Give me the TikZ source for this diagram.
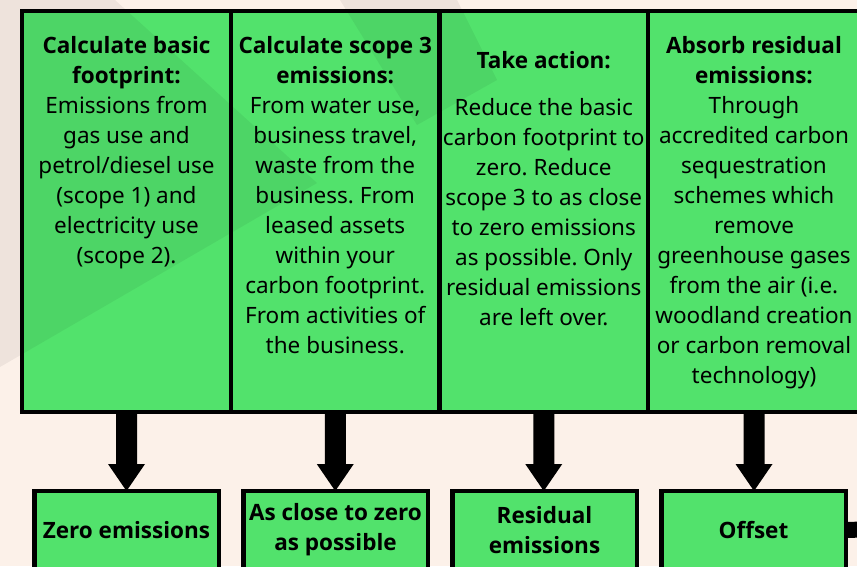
\documentclass[tikz,border=0pt]{standalone}
\usepackage{fontspec}
\setmainfont{Noto Sans}
\newfontfamily\headfont{Open Sans}
\usetikzlibrary{calc}

\definecolor{cream}{RGB}{252,241,233}
\definecolor{leaf}{RGB}{82,226,108}

\newcommand\bodyfont{\fontsize{22.5}{30}\selectfont\frenchspacing}
\newcommand\hd[1]{{\headfont\bfseries #1}}

\tikzset{
  panel/.style={draw=black, line width=4.5pt, fill=leaf, inner sep=0pt,
    outer sep=0pt, minimum height=401pt},
  result/.style={draw=black, line width=4.5pt, fill=leaf, inner sep=0pt,
    outer sep=0pt, minimum width=184.5pt, minimum height=78pt,
    align=center, font=\bodyfont\headfont\bfseries},
  blurb/.style={anchor=north, inner sep=0pt, align=center, font=\bodyfont},
  tint/.style={fill=black, fill opacity=0.055},
}

% thick downward arrow from the bottom of one node to the top of another
\newcommand\fatdrop[2]{%
  \fill let \p1=(#1.south), \p2=(#2.north) in
    (\x1-10.5pt,\y1) -- (\x1-10.5pt,\y2+27pt) -- (\x1-18.5pt,\y2+27pt) --
    (\x1,\y2) -- (\x1+18.5pt,\y2+27pt) -- (\x1+10.5pt,\y2+27pt) --
    (\x1+10.5pt,\y1) -- cycle;}

\begin{document}
\begin{tikzpicture}[x=1pt, y=-1pt]
  \useasboundingbox (0,0) rectangle (857,566);
  \clip (0,0) rectangle (857,566);
  \fill[cream] (0,0) rectangle (857,566);

  % the four step panels
  \node[panel, minimum width=209pt] (t1) at (126.5,211.5) {};
  \node[panel, minimum width=208.5pt] (t2) at (335.25,211.5) {};
  \node[panel, minimum width=208.5pt] (t3) at (543.75,211.5) {};
  \node[panel, minimum width=212pt] (t4) at (754,211.5) {};

  % faint decorative band across the upper left
  \fill[tint] (0,0) -- (115,0) -- (317,183) -- (0,367) -- cycle;
  \fill[tint] (340,0) -- (457,0) -- (497,80) -- (417,125) -- cycle;

  % panel texts
  \node[blurb] at ($(t1.north)+(0,21.5)$) {\strut\hd{Calculate basic}\\
    \hd{footprint:}\\Emissions from\\gas use and\\petrol/diesel use\\
    (scope 1) and\\electricity use\\(scope 2).};
  \node[blurb] at ($(t2.north)+(0,21.5)$) {\strut\hd{Calculate scope 3}\\
    \hd{emissions:}\\From water use,\\business travel,\\waste from the\\
    business. From\\leased assets\\within your\\carbon footprint.\\
    From activities of\\the business.};
  \node[blurb] at ($(t3.north)+(0,36)$) {\strut\hd{Take action:}\\[17pt]
    Reduce the basic\\carbon footprint to\\zero. Reduce\\scope 3 to as close\\
    to zero emissions\\as possible. Only\\residual emissions\\are left over.};
  \node[blurb] at ($(t4.north)+(0,21)$) {\strut\hd{Absorb residual}\\
    \hd{emissions:}\\Through\\accredited carbon\\sequestration\\
    schemes which\\remove\\greenhouse gases\\from the air (i.e.\\
    woodland creation\\or carbon removal\\technology)};

  % outcomes
  \node[result] (b1) at (126.5,530) {Zero emissions};
  \node[result] (b2) at (335.5,530) {As close to zero\\as possible};
  \node[result] (b3) at (544.5,530) {Residual\\emissions};
  \node[result] (b4) at (753.5,530) {Offset};

  % arrows from steps to outcomes
  \fatdrop{t1}{b1}
  \fatdrop{t2}{b2}
  \fatdrop{t3}{b3}
  \fatdrop{t4}{b4}

  % outgoing connector on the right of the last outcome
  \coordinate (onward) at (880,529);
  \draw[line width=16pt] (b4.east) -- (onward);
\end{tikzpicture}
\end{document}
